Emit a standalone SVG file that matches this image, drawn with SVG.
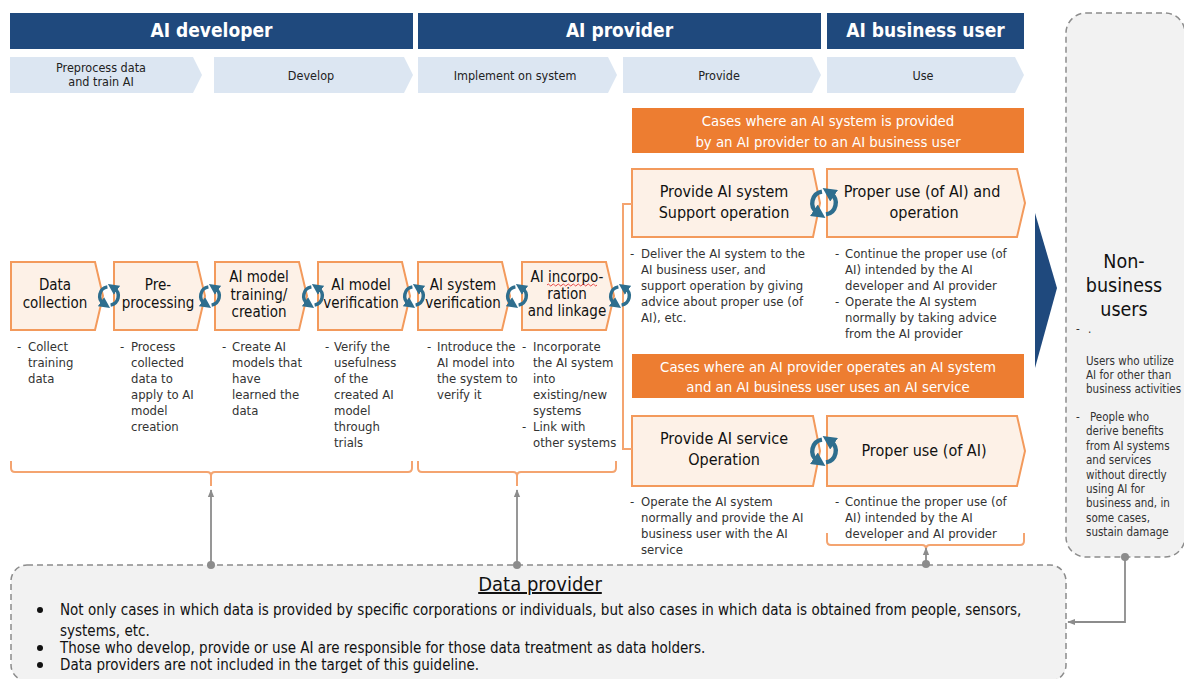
<svg xmlns="http://www.w3.org/2000/svg" width="1184" height="679" viewBox="0 0 1184 679">
<defs>
<style>
text{font-family:"DejaVu Sans Condensed","DejaVu Sans",sans-serif;}
.hbar{fill:#1F497D}
.hdr{font-size:19px;font-weight:bold;fill:#fff;text-anchor:middle}
.chev{fill:#DCE6F2}
.ph{font-size:12.5px;fill:#222;text-anchor:middle}
.box{fill:#FDF1E7;stroke:#F39A5C;stroke-width:2}
.pl{font-size:15px;fill:#111;text-anchor:middle}
.bl{font-size:16px;fill:#111;text-anchor:middle}
.ban{fill:#ED7D31}
.bt{font-size:14.8px;fill:#fff;text-anchor:middle}
.d{font-size:13px;fill:#333}
.brk{fill:none;stroke:#F4A470;stroke-width:2}
.cy{fill:none;stroke:#2E6E8E;stroke-width:3}
.dsh{fill:#F2F2F2;stroke:#8C8C8C;stroke-width:1.5;stroke-dasharray:6 4}
.gl{fill:none;stroke:#8C8C8C;stroke-width:1.8}
.dot{fill:#8C8C8C}
.nb{font-size:11.5px;fill:#333}
.dp{font-size:15px;fill:#111}
</style>
<marker id="ah" viewBox="0 0 10 10" refX="3" refY="5" markerWidth="3.2" markerHeight="3.2" orient="auto"><path d="M0,0 L10,5 L0,10 z" fill="#2E6E8E"/></marker>
<marker id="ga" viewBox="0 0 10 10" refX="9" refY="5" markerWidth="8" markerHeight="8" markerUnits="userSpaceOnUse" orient="auto"><path d="M0,1 L10,5 L0,9 z" fill="#8C8C8C"/></marker>
<g id="cyc">
<path class="cy" d="M-1.4 -7.9 A8 8 0 0 0 -4.6 6.6" marker-end="url(#ah)"/>
<path class="cy" d="M1.4 7.9 A8 8 0 0 0 4.6 -6.6" marker-end="url(#ah)"/>
</g>
</defs>
<rect width="1184" height="679" fill="#fff"/>

<!-- headers -->
<g id="hdr-dev"><rect class="hbar" x="10" y="13" width="403" height="36"/><text class="hdr" x="211.5" y="37">AI developer</text></g>
<g id="hdr-prov"><rect class="hbar" x="418" y="13" width="403" height="36"/><text class="hdr" x="619.5" y="37">AI provider</text></g>
<g id="hdr-user"><rect class="hbar" x="827" y="13" width="197" height="36"/><text class="hdr" x="925.5" y="37">AI business user</text></g>

<!-- phases -->
<g id="ph1"><polygon class="chev" points="10,57 193,57 202,75 193,93 10,93"/><text class="ph" x="101" y="72">Preprocess data</text><text class="ph" x="101" y="86">and train AI</text></g>
<g id="ph2"><polygon class="chev" points="214,57 404,57 413,75 404,93 214,93"/><text class="ph" x="311" y="80">Develop</text></g>
<g id="ph3"><polygon class="chev" points="418,57 608,57 617,75 608,93 418,93"/><text class="ph" x="515" y="80">Implement on system</text></g>
<g id="ph4"><polygon class="chev" points="623,57 812,57 821,75 812,93 623,93"/><text class="ph" x="719" y="80">Provide</text></g>
<g id="ph5"><polygon class="chev" points="827,57 1015,57 1024,75 1015,93 827,93"/><text class="ph" x="923" y="80">Use</text></g>

<!-- process boxes -->
<g id="p1"><polygon class="box" points="11,262 95,262 103,296 95,330 11,330"/><text class="pl" x="55" y="290">Data</text><text class="pl" x="55" y="308">collection</text>
<text class="d" x="17" y="351">-<tspan x="28">Collect</tspan><tspan x="28" dy="16">training</tspan><tspan x="28" dy="16">data</tspan></text></g>
<g id="p2"><polygon class="box" points="114,262 197,262 205,296 197,330 114,330"/><text class="pl" x="158" y="290">Pre-</text><text class="pl" x="158" y="308">processing</text>
<text class="d" x="120" y="351">-<tspan x="131">Process</tspan><tspan x="131" dy="16">collected</tspan><tspan x="131" dy="16">data to</tspan><tspan x="131" dy="16">apply to AI</tspan><tspan x="131" dy="16">model</tspan><tspan x="131" dy="16">creation</tspan></text></g>
<g id="p3"><polygon class="box" points="215,262 299,262 307,296 299,330 215,330"/><text class="pl" x="259" y="282">AI model</text><text class="pl" x="259" y="300">training/</text><text class="pl" x="259" y="317">creation</text>
<text class="d" x="222" y="351">-<tspan x="232">Create AI</tspan><tspan x="232" dy="16">models that</tspan><tspan x="232" dy="16">have</tspan><tspan x="232" dy="16">learned the</tspan><tspan x="232" dy="16">data</tspan></text></g>
<g id="p4"><polygon class="box" points="318,262 402,262 410,296 402,330 318,330"/><text class="pl" x="361" y="290">AI model</text><text class="pl" x="361" y="308">verification</text>
<text class="d" x="325" y="351">-<tspan x="334">Verify the</tspan><tspan x="334" dy="16">usefulness</tspan><tspan x="334" dy="16">of the</tspan><tspan x="334" dy="16">created AI</tspan><tspan x="334" dy="16">model</tspan><tspan x="334" dy="16">through</tspan><tspan x="334" dy="16">trials</tspan></text></g>
<g id="p5"><polygon class="box" points="418,262 502,262 510,296 502,330 418,330"/><text class="pl" x="463" y="290">AI system</text><text class="pl" x="463" y="308">verification</text>
<text class="d" x="427" y="351">-<tspan x="437">Introduce the</tspan><tspan x="437" dy="16">AI model into</tspan><tspan x="437" dy="16">the system to</tspan><tspan x="437" dy="16">verify it</tspan></text></g>
<g id="p6"><polygon class="box" points="522,262 606,262 614,296 606,330 522,330"/><text class="pl" x="567" y="282">AI incorpo-</text><text class="pl" x="567" y="299">ration</text><text class="pl" x="567" y="316">and linkage</text>
<path d="M547 285 q1.25 -2 2.5 0 t2.5 0 t2.5 0 t2.5 0 t2.5 0 t2.5 0 t2.5 0 t2.5 0 t2.5 0 t2.5 0 t2.5 0 t2.5 0 t2.5 0 t2.5 0 t2.5 0 t2.5 0 t2.5 0 t2.5 0 t2.5 0 t2.5 0" fill="none" stroke="#E02020" stroke-width="0.8"/>
<text class="d" x="522" y="351">-<tspan x="533">Incorporate</tspan><tspan x="533" dy="16">the AI system</tspan><tspan x="533" dy="16">into</tspan><tspan x="533" dy="16">existing/new</tspan><tspan x="533" dy="16">systems</tspan><tspan x="522" dy="16">-</tspan><tspan x="533">Link with</tspan><tspan x="533" dy="16">other systems</tspan></text></g>

<!-- case 1 -->
<g id="case1"><rect class="ban" x="632" y="108" width="392" height="45"/><text class="bt" x="828" y="126">Cases where an AI system is provided</text><text class="bt" x="828" y="147">by an AI provider to an AI business user</text></g>
<g id="prov1"><polygon class="box" points="632,169 813,169 820,203 813,237 632,237"/><text class="bl" x="724" y="197">Provide AI system</text><text class="bl" x="724" y="218">Support operation</text>
<text class="d" x="630" y="258">-<tspan x="641">Deliver the AI system to the</tspan><tspan x="641" dy="16">AI business user, and</tspan><tspan x="641" dy="16">support operation by giving</tspan><tspan x="641" dy="16">advice about proper use (of</tspan><tspan x="641" dy="16">AI), etc.</tspan></text></g>
<g id="use1"><polygon class="box" points="827,169 1017,169 1025,203 1017,237 827,237"/><text class="bl" x="922" y="197">Proper use (of AI) and</text><text class="bl" x="924" y="218">operation</text>
<text class="d" x="835" y="258">-<tspan x="845">Continue the proper use (of</tspan><tspan x="845" dy="16">AI) intended by the AI</tspan><tspan x="845" dy="16">developer and AI provider</tspan><tspan x="835" dy="16">-</tspan><tspan x="845">Operate the AI system</tspan><tspan x="845" dy="16">normally by taking advice</tspan><tspan x="845" dy="16">from the AI provider</tspan></text></g>

<!-- case 2 -->
<g id="case2"><rect class="ban" x="632" y="354" width="392" height="44"/><text class="bt" x="828" y="372">Cases where an AI provider operates an AI system</text><text class="bt" x="828" y="392">and an AI business user uses an AI service</text></g>
<g id="prov2"><polygon class="box" points="632,416 813,416 820,451 813,486 632,486"/><text class="bl" x="724" y="444">Provide AI service</text><text class="bl" x="724" y="465">Operation</text>
<text class="d" x="630" y="506">-<tspan x="641">Operate the AI system</tspan><tspan x="641" dy="16">normally and provide the AI</tspan><tspan x="641" dy="16">business user with the AI</tspan><tspan x="641" dy="15.5">service</tspan></text></g>
<g id="use2"><polygon class="box" points="827,416 1017,416 1025,451 1017,486 827,486"/><text class="bl" x="924" y="456">Proper use (of AI)</text>
<text class="d" x="835" y="506">-<tspan x="845">Continue the proper use (of</tspan><tspan x="845" dy="16">AI) intended by the AI</tspan><tspan x="845" dy="16">developer and AI provider</tspan></text></g>

<!-- non-business users -->
<g id="nonbiz"><rect class="dsh" x="1066" y="13" width="119" height="544" rx="20"/>
<text x="1124" y="268" font-size="19.5" fill="#111" text-anchor="middle">Non-</text><text x="1124" y="292" font-size="19.5" fill="#111" text-anchor="middle">business</text><text x="1124" y="316" font-size="19.5" fill="#111" text-anchor="middle">users</text>
<text class="nb" x="1076" y="333">- <tspan x="1088">.</tspan></text>
<text class="nb" x="1086" y="365">Users who utilize<tspan x="1086" dy="14">AI for other than</tspan><tspan x="1086" dy="14">business activities</tspan></text>
<text class="nb" x="1076" y="421">-<tspan x="1090">People who</tspan><tspan x="1086" dy="14.4">derive benefits</tspan><tspan x="1086" dy="14.4">from AI systems</tspan><tspan x="1086" dy="14.4">and services</tspan><tspan x="1086" dy="14.4">without directly</tspan><tspan x="1086" dy="14.4">using AI for</tspan><tspan x="1086" dy="14.4">business and, in</tspan><tspan x="1086" dy="14.4">some cases,</tspan><tspan x="1086" dy="14.4">sustain damage</tspan></text>
</g>
<g id="bigarrow"><polygon points="1035,213 1057,288 1035,368" fill="#1F497D"/></g>

<!-- data provider -->
<g id="dataprov"><rect class="dsh" x="11" y="565" width="1055" height="116" rx="16"/>
<text x="540" y="591" font-size="20" fill="#111" text-anchor="middle" text-decoration="underline">Data provider</text>
<circle cx="40" cy="610" r="3" fill="#111"/><circle cx="40" cy="648" r="3" fill="#111"/><circle cx="40" cy="665" r="3" fill="#111"/>
<text class="dp" x="60" y="615">Not only cases in which data is provided by specific corporations or individuals, but also cases in which data is obtained from people, sensors,</text>
<text class="dp" x="60" y="636">systems, etc.</text>
<text class="dp" x="60" y="653">Those who develop, provide or use AI are responsible for those data treatment as data holders.</text>
<text class="dp" x="60" y="670">Data providers are not included in the target of this guideline.</text>
</g>

<!-- connectors -->
<g id="connectors">
<path class="brk" d="M11 461 L11 468 Q11 472 15 472 L207 472 Q211 472 211 476 L211 486 M211 476 Q211 472 215 472 L408 472 Q412 472 412 468 L412 461"/>
<path class="brk" d="M418 461 L418 468 Q418 472 422 472 L513 472 Q517 472 517 476 L517 486 M517 476 Q517 472 521 472 L612 472 Q616 472 616 468 L616 461"/>
<path class="brk" d="M827 533 L827 541 Q827 545 831 545 L922 545 Q926 545 926 549 L926 551 M926 549 Q926 545 930 545 L1020 545 Q1024 545 1024 541 L1024 533"/>
<path class="brk" d="M632 204 L623 204 L623 449 L632 449"/>
<use href="#cyc" transform="translate(109,296) scale(1.15)"/>
<use href="#cyc" transform="translate(210,296) scale(1.15)"/>
<use href="#cyc" transform="translate(313,296) scale(1.15)"/>
<use href="#cyc" transform="translate(414,296) scale(1.15)"/>
<use href="#cyc" transform="translate(517,296) scale(1.15)"/>
<use href="#cyc" transform="translate(620,296) scale(1.15)"/>
<use href="#cyc" transform="translate(824,203) scale(1.45)"/>
<use href="#cyc" transform="translate(824,451) scale(1.45)"/>
<line class="gl" x1="211" y1="565" x2="211" y2="490" marker-end="url(#ga)"/><circle class="dot" cx="211" cy="565" r="4"/>
<line class="gl" x1="517" y1="565" x2="517" y2="490" marker-end="url(#ga)"/><circle class="dot" cx="517" cy="565" r="4"/>
<line class="gl" x1="926" y1="564" x2="926" y2="548" marker-end="url(#ga)"/><circle class="dot" cx="926" cy="564" r="4"/>
<path class="gl" d="M1125 557 L1125 622 L1068 622" marker-end="url(#ga)"/><circle class="dot" cx="1125" cy="557" r="4"/>
</g>
</svg>
